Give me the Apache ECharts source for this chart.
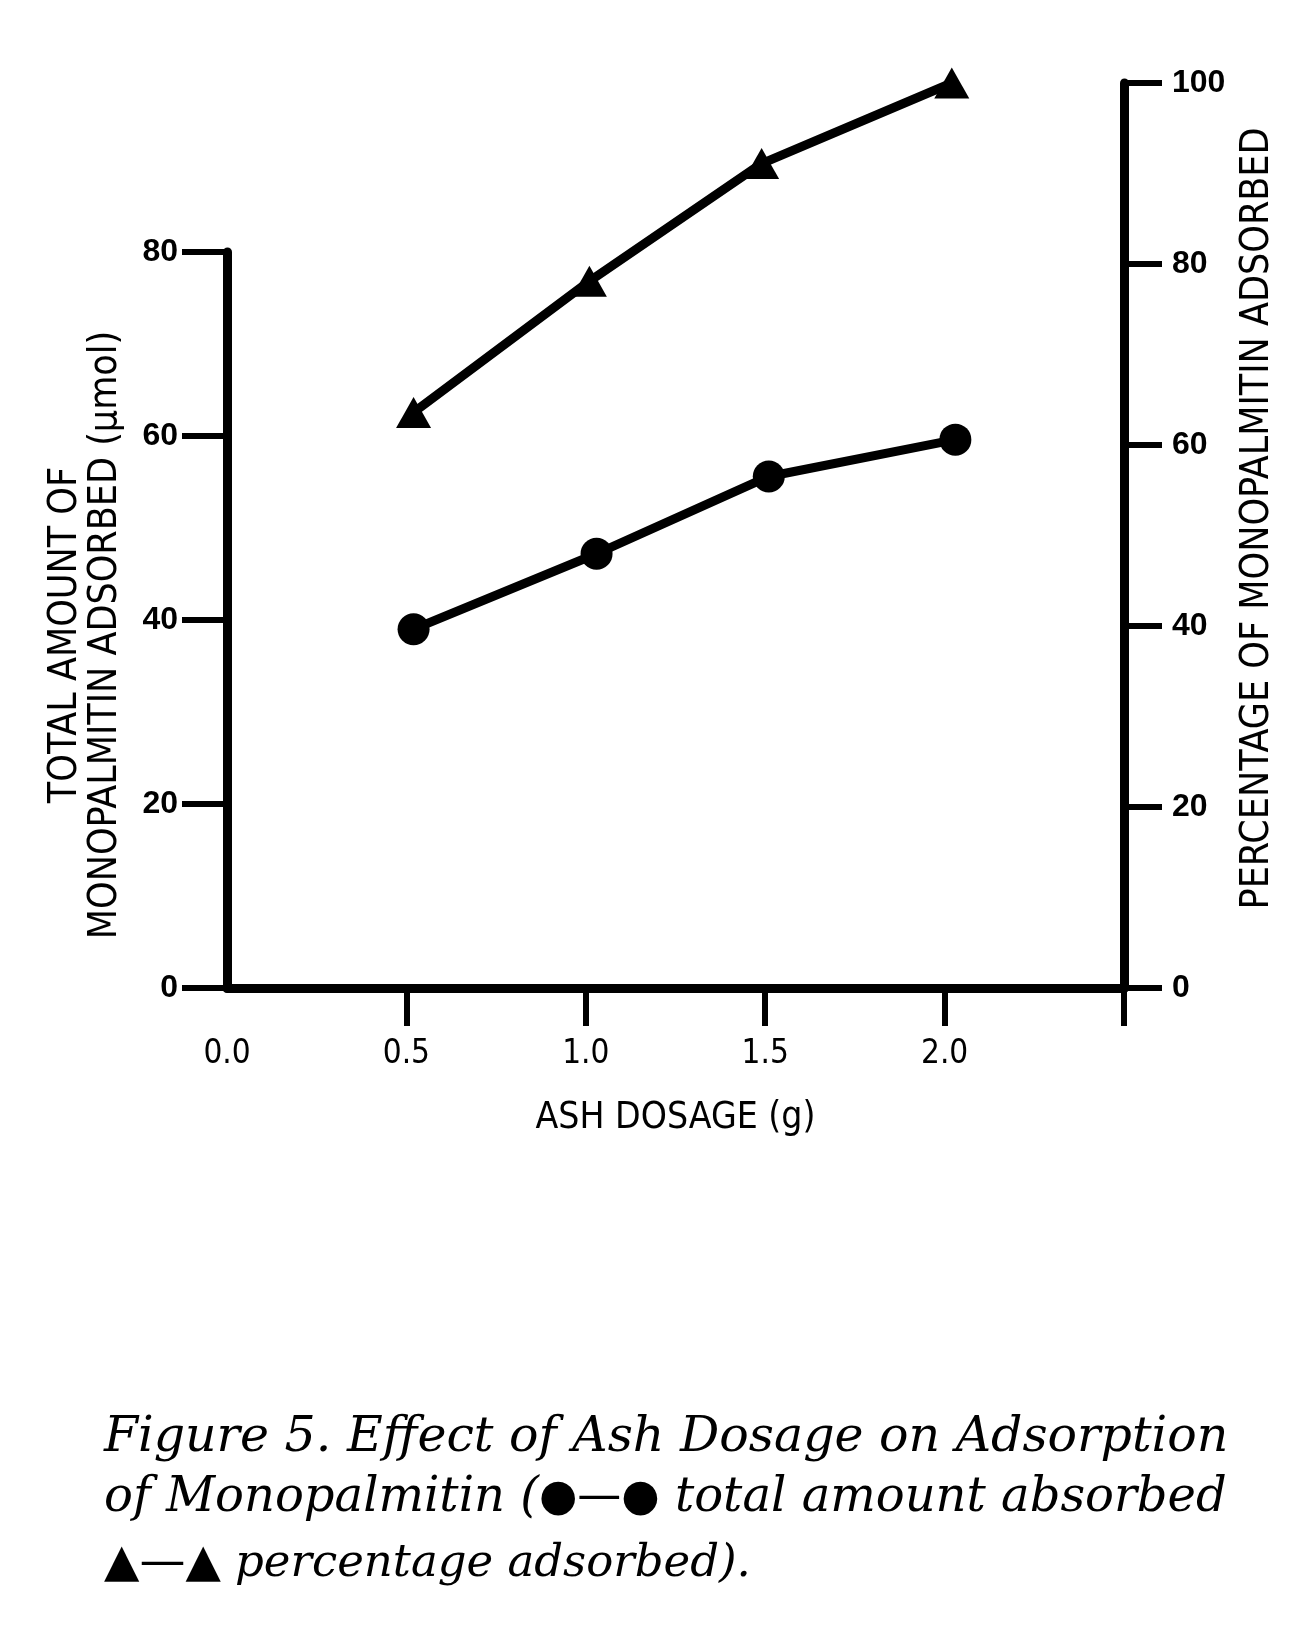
<!DOCTYPE html>
<html>
<head>
<meta charset="utf-8">
<script src="https://cdn.jsdelivr.net/npm/echarts@6/dist/echarts.min.js"></script>
<style>
  html, body { margin: 0; padding: 0; background: #fff; }
  #main { width: 1310px; height: 1636px; }
</style>
</head>
<body>
<div id="main"></div>
<script>
// total amount adsorbed (umol) vs ash dosage (g) - left axis
var dosageAmount = [0.52, 1.03, 1.51, 2.03];
var totalAmount = [39.0, 47.2, 55.6, 59.6];
// percentage adsorbed vs ash dosage - right axis
var dosagePct = [0.52, 1.01, 1.49, 2.02];
var percentAdsorbed = [63.6, 78.1, 91.1, 100];
// tick marks on the dosage axis
var xTicks = [0.5, 1.0, 1.5, 2.0, 2.5];

var tickFont = '"Liberation Sans", Arial, sans-serif';
var titleFont = '"DejaVu Sans Condensed", "Liberation Sans Narrow", "Liberation Sans", sans-serif';

function pairs(xs, ys) {
    return xs.map(function (x, i) { return [x, ys[i]]; });
}

var chart = echarts.init(document.getElementById('main'));

var option = {
    animation: false,
    backgroundColor: '#fff',
    grid: [
        { left: 227, right: 186, top: 252, bottom: 648 },
        { left: 227, right: 186, top: 83, bottom: 648 }
    ],
    xAxis: [{
        gridIndex: 0,
        type: 'value',
        min: 0,
        max: 2.5,
        interval: 0.5,
        name: 'ASH DOSAGE (g)',
        nameLocation: 'middle',
        nameGap: 112,
        nameTextStyle: { fontFamily: titleFont, fontSize: 37, color: '#000' },
        axisLine: { lineStyle: { color: '#000', width: 9 } },
        axisTick: { length: 38, lineStyle: { color: '#000', width: 6 }, customValues: xTicks },
        axisLabel: {
            margin: 50, color: '#000', fontFamily: titleFont, fontSize: 33,
            formatter: function (v) { return v >= 2.5 ? '' : v.toFixed(1); }
        },
        splitLine: { show: false }
    }, {
        gridIndex: 1,
        type: 'value',
        min: 0,
        max: 2.5,
        show: false
    }],
    yAxis: [{
        gridIndex: 0,
        type: 'value',
        min: 0,
        max: 80,
        interval: 20,
        position: 'left',
        name: 'TOTAL AMOUNT OF\nMONOPALMITIN ADSORBED (\u03bcmol)',
        nameLocation: 'middle',
        nameRotate: 90,
        nameGap: 101,
        nameTextStyle: { fontFamily: titleFont, fontSize: 39, color: '#000', lineHeight: 40, padding: [0, 30, 0, 0] },
        axisLine: { show: true, onZero: false, lineStyle: { color: '#000', width: 9 } },
        axisTick: { show: true, length: 45, lineStyle: { color: '#000', width: 6 } },
        axisLabel: { margin: 49, color: '#000', fontFamily: tickFont, fontSize: 32, fontWeight: 'bold' },
        splitLine: { show: false }
    }, {
        gridIndex: 1,
        type: 'value',
        min: 0,
        max: 100,
        interval: 20,
        position: 'right',
        name: 'PERCENTAGE OF MONOPALMITIN ADSORBED',
        nameLocation: 'middle',
        nameRotate: 90,
        nameGap: 114,
        nameTextStyle: { fontFamily: titleFont, fontSize: 39, color: '#000', padding: [0, 0, 0, 34] },
        axisLine: { show: true, onZero: false, lineStyle: { color: '#000', width: 9 } },
        axisTick: { show: true, length: 38, lineStyle: { color: '#000', width: 6 } },
        axisLabel: { margin: 48, color: '#000', fontFamily: tickFont, fontSize: 32, fontWeight: 'bold' },
        splitLine: { show: false }
    }],
    series: [{
        name: 'total amount absorbed',
        type: 'line',
        xAxisIndex: 0,
        yAxisIndex: 0,
        data: pairs(dosageAmount, totalAmount),
        symbol: 'circle',
        symbolSize: 32,
        clip: false,
        lineStyle: { color: '#000', width: 9 },
        itemStyle: { color: '#000' }
    }, {
        name: 'percentage adsorbed',
        type: 'line',
        xAxisIndex: 1,
        yAxisIndex: 1,
        data: pairs(dosagePct, percentAdsorbed),
        symbol: 'triangle',
        symbolSize: [35, 31],
        clip: false,
        lineStyle: { color: '#000', width: 9 },
        itemStyle: { color: '#000' }
    }],
    graphic: [{
        type: 'text',
        left: 104,
        top: 1414,
        style: {
            text: 'Figure 5. Effect of Ash Dosage on Adsorption',
            font: 'italic 49px "DejaVu Serif", serif',
            fill: '#000'
        }
    }, {
        type: 'text',
        left: 104,
        top: 1475,
        style: {
            text: 'of Monopalmitin ({s|\u25cf\u2014\u25cf} total amount absorbed',
            font: 'italic 48px "DejaVu Serif", serif',
            fill: '#000',
            rich: { s: { fontFamily: '"DejaVu Sans"', fontStyle: 'normal', fontSize: 44, fill: '#000' } }
        }
    }, {
        type: 'text',
        left: 104,
        top: 1541,
        style: {
            text: '{s|\u25b2\u2014\u25b2} percentage adsorbed).',
            font: 'italic 45px "DejaVu Serif", serif',
            fill: '#000',
            rich: { s: { fontFamily: '"DejaVu Sans"', fontStyle: 'normal', fontSize: 46, fill: '#000' } }
        }
    }]
};

chart.setOption(option);
</script>
</body>
</html>
